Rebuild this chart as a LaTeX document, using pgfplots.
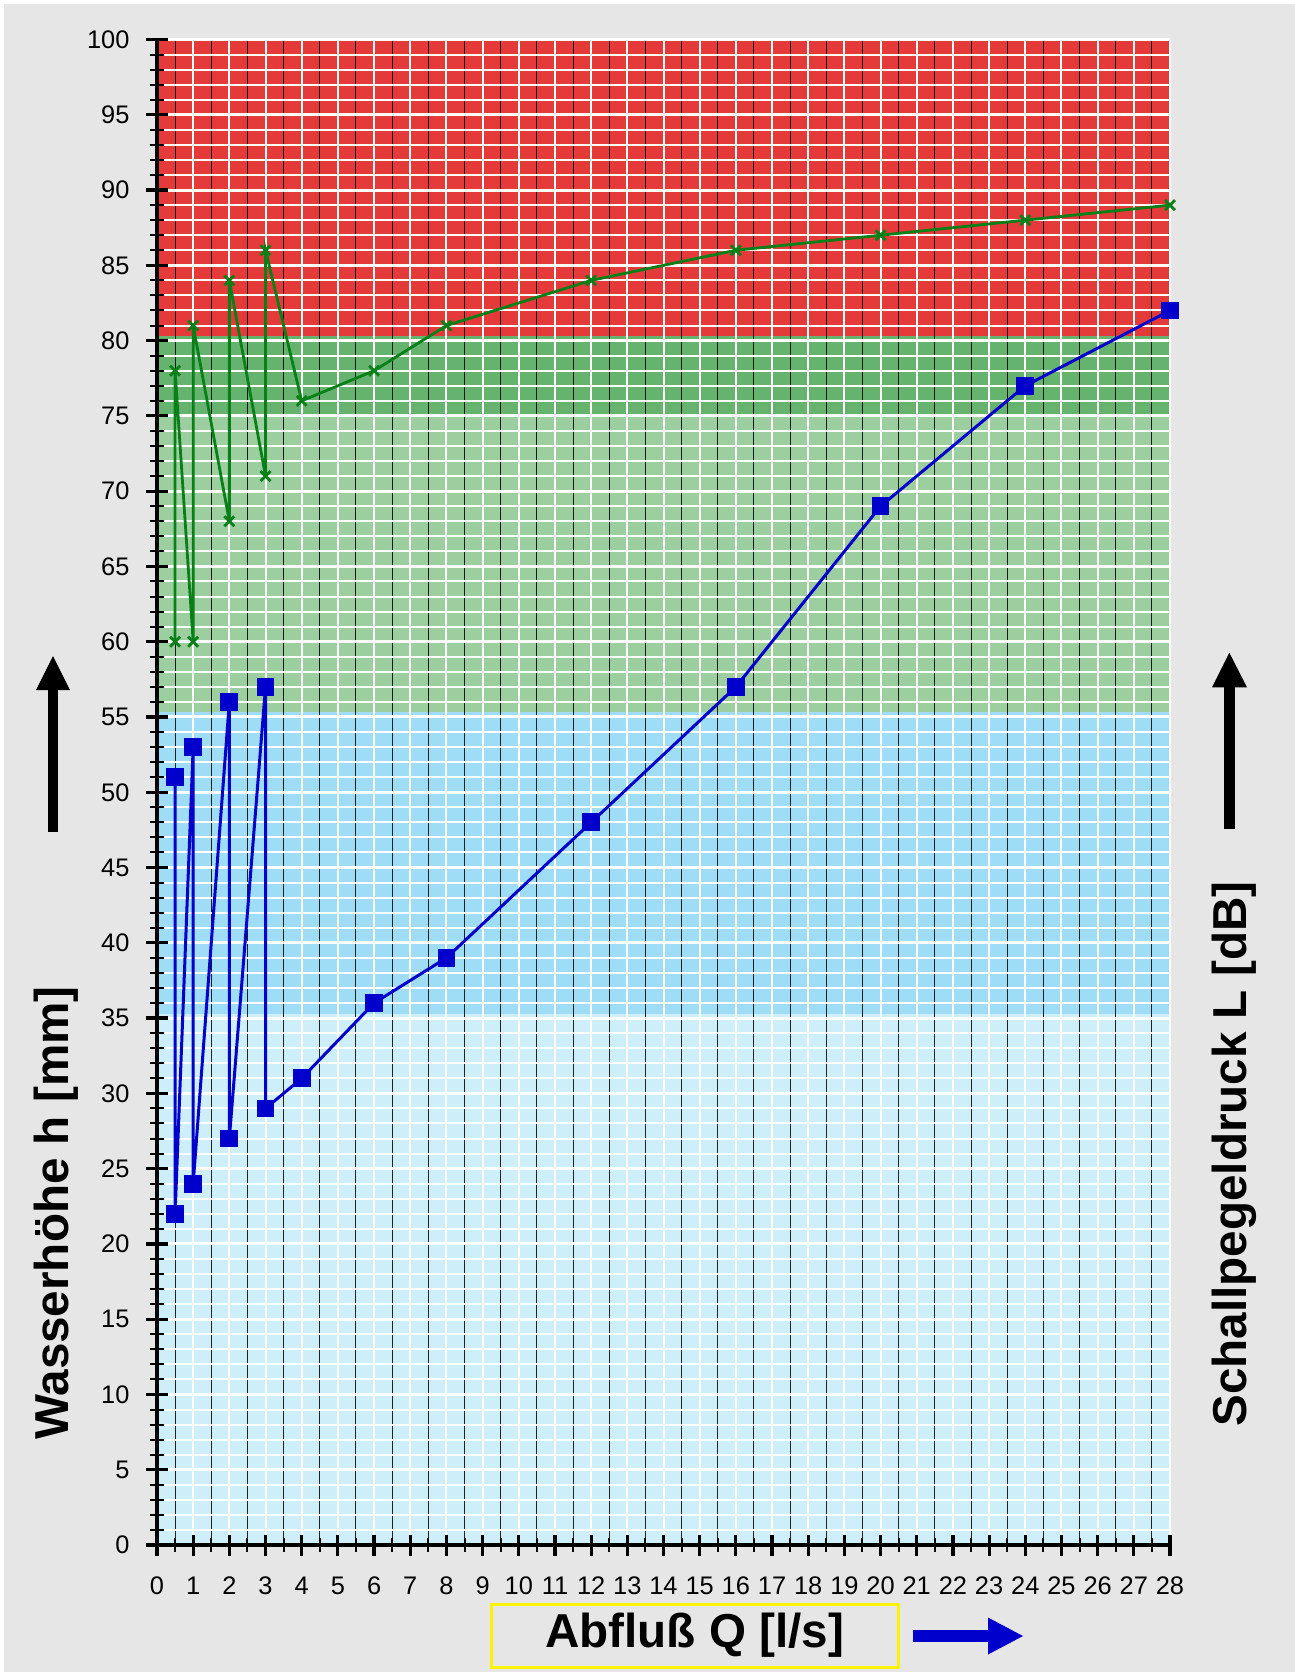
\documentclass[border=0pt]{standalone}
\usepackage{fontspec}
\setmainfont{Liberation Sans}
\usepackage{pgfplots}
\pgfplotsset{compat=1.18}

\definecolor{bggray}{RGB}{230,230,230}
\definecolor{bandred}{RGB}{228,58,58}
\definecolor{banddkgreen}{RGB}{102,179,111}
\definecolor{bandltgreen}{RGB}{156,206,160}
\definecolor{bandblue}{RGB}{158,221,245}
\definecolor{bandpale}{RGB}{206,238,249}
\definecolor{lineblue}{RGB}{0,0,204}
\definecolor{linegreen}{RGB}{8,128,24}

\pgfplotsset{
  chartbox/.style={
    at={(78.5pt,-772.5pt)}, anchor=south west,
    scale only axis,
    width=506.5pt, height=752.75pt,
    xmin=0, xmax=28, ymin=0, ymax=100,
    clip=false,
  }
}

\begin{document}
\begin{tikzpicture}
\fill[white] (0,0) rectangle (647.5pt,-836pt);
\fill[bggray] (2pt,-2pt) rectangle (647.5pt,-836pt);

% coloured bands
\begin{axis}[chartbox, axis lines=none, ticks=none]
\addplot[fill=bandpale, draw=none] coordinates {(0,0) (28,0) (28,35.3) (0,35.3)} -- cycle;
\addplot[fill=bandblue, draw=none] coordinates {(0,35.3) (28,35.3) (28,55.3) (0,55.3)} -- cycle;
\addplot[fill=bandltgreen, draw=none] coordinates {(0,55.3) (28,55.3) (28,75) (0,75)} -- cycle;
\addplot[fill=banddkgreen, draw=none] coordinates {(0,75) (28,75) (28,80.3) (0,80.3)} -- cycle;
\addplot[fill=bandred, draw=none] coordinates {(0,80.3) (28,80.3) (28,100) (0,100)} -- cycle;
\end{axis}

\begin{axis}[
    chartbox,
    axis x line=bottom, axis y line=left,
    axis line style={-, line width=1.7pt},
    xtick={0,1,...,28}, ytick={0,5,...,100},
    minor x tick num=1, minor y tick num=4,
    tick align=center,
    major tick length=10.5pt, minor tick length=7pt,
    every major tick/.append style={line width=1.6pt, black},
    every minor tick/.append style={line width=1pt, black},
    grid=both,
    major x grid style={white, line width=1pt},
    minor x grid style={black, line width=0.5pt, opacity=0.85},
    major y grid style={white, line width=1.5pt},
    minor y grid style={white, line width=1pt},
    /pgf/number format/assume math mode=true,
    tick label style={font=\fontsize{12.7}{15}\selectfont},
    xticklabel style={yshift=-7pt},
    yticklabel style={xshift=-5pt},
]
% Schallpegel
\addplot[linegreen, line width=1.4pt, mark=x, mark size=3.5pt] coordinates {
  (0.5,60) (0.5,78) (1,60) (1,81) (2,68) (2,84) (3,71) (3,86) (4,76)
  (6,78) (8,81) (12,84) (16,86) (20,87) (24,88) (28,89)
};
% Wasserhoehe
\addplot[lineblue, line width=1.5pt, mark=square*, mark size=3.7pt, mark options={fill=lineblue}] coordinates {
  (0.5,51) (0.5,22) (1,53) (1,24) (2,56) (2,27) (3,57) (3,29) (4,31)
  (6,36) (8,39) (12,48) (16,57) (20,69) (24,77) (28,82)
};
\end{axis}

\begin{scope}[x=0.5pt, y=-0.5pt]
  % arrows
  \fill[black] (47.7,831.7) rectangle (58.3,688);
  \fill[black] (36,690) -- (53,656) -- (70,690) -- cycle;
  \fill[black] (1224,829) rectangle (1234.7,686);
  \fill[black] (1212,687.3) -- (1229.3,652.7) -- (1247,687.3) -- cycle;
  \fill[lineblue] (913,1630) rectangle (990,1642);
  \fill[lineblue] (988,1617.5) -- (1023,1636) -- (988,1654.5) -- cycle;
  % labels
  \draw[yellow, line width=1.5pt] (491,1604) rectangle (898,1667);
  \node[font=\bfseries\fontsize{23.8}{28}\selectfont] at (694.5,1635.5) {Abfluß Q [l/s]};
  \node[rotate=90, font=\bfseries\fontsize{23.8}{28}\selectfont] at (56,1213) {Wasserhöhe h [mm]};
  \node[rotate=90, font=\bfseries\fontsize{23.8}{28}\selectfont] at (1234,1154) {Schallpegeldruck L [dB]};
\end{scope}

\pgfresetboundingbox
\path[use as bounding box] (0,0) rectangle (647.5pt,-836pt);
\end{tikzpicture}
\end{document}
